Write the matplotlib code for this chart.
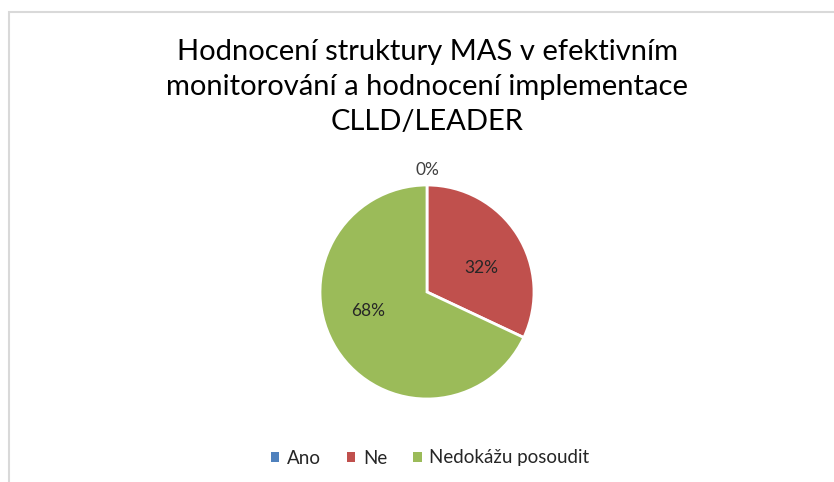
import matplotlib
matplotlib.use("Agg")
import matplotlib.pyplot as plt
from matplotlib.patches import Rectangle

categories = ["Ano", "Ne", "Nedokážu posoudit"]
values = [0, 32, 68]
labels = ["0%", "32%", "68%"]
colors = ["#4F81BD", "#C0504D", "#9BBB59"]

plt.rcParams['font.family'] = ['Lato', 'DejaVu Sans']

W, H = 834, 482
fig = plt.figure(figsize=(W / 100, H / 100), dpi=100)

# chart border (right and bottom edges lie outside the image)
fig.patches.append(Rectangle((8.5 / W, -0.1), 1.2, 1.1 - 11.5 / H, transform=fig.transFigure,
                             fill=False, edgecolor="#d9d9d9", linewidth=1.5))

fig.text(427 / W, 1 - 87 / H,
         "Hodnocení struktury MAS v efektivním\nmonitorování a hodnocení implementace\nCLLD/LEADER",
         ha="center", va="center", fontsize=21, color="#000000", linespacing=1.45)

r = 107
cx, cy = 427, 292
ax = fig.add_axes([(cx - r) / W, 1 - (cy + r) / H, 2 * r / W, 2 * r / H])
wedges, _ = ax.pie(values, colors=colors, startangle=90, counterclock=False,
                   wedgeprops=dict(edgecolor="white", linewidth=2), radius=1.0)
ax.set_xlim(-1, 1)
ax.set_ylim(-1, 1)
ax.set_aspect("auto")

# data labels
ax.text(0, 1.14, labels[0], ha="center", va="center", fontsize=12.5, color="#404040")
ax.text(0.51, 0.22, labels[1], ha="center", va="center", fontsize=12.5, color="#262626")
ax.text(-0.55, -0.18, labels[2], ha="center", va="center", fontsize=12.5, color="#262626")

handles = [Rectangle((0, 0), 1, 1, facecolor=c) for c in colors]
fig.legend(handles, categories, loc="center", bbox_to_anchor=(430 / W, 1 - 458 / H),
           ncol=3, frameon=False, fontsize=13.5, handlelength=0.45, handleheight=0.45,
           handletextpad=0.4, columnspacing=1.4, labelcolor="#262626")

fig.savefig("out.png", dpi=100)
